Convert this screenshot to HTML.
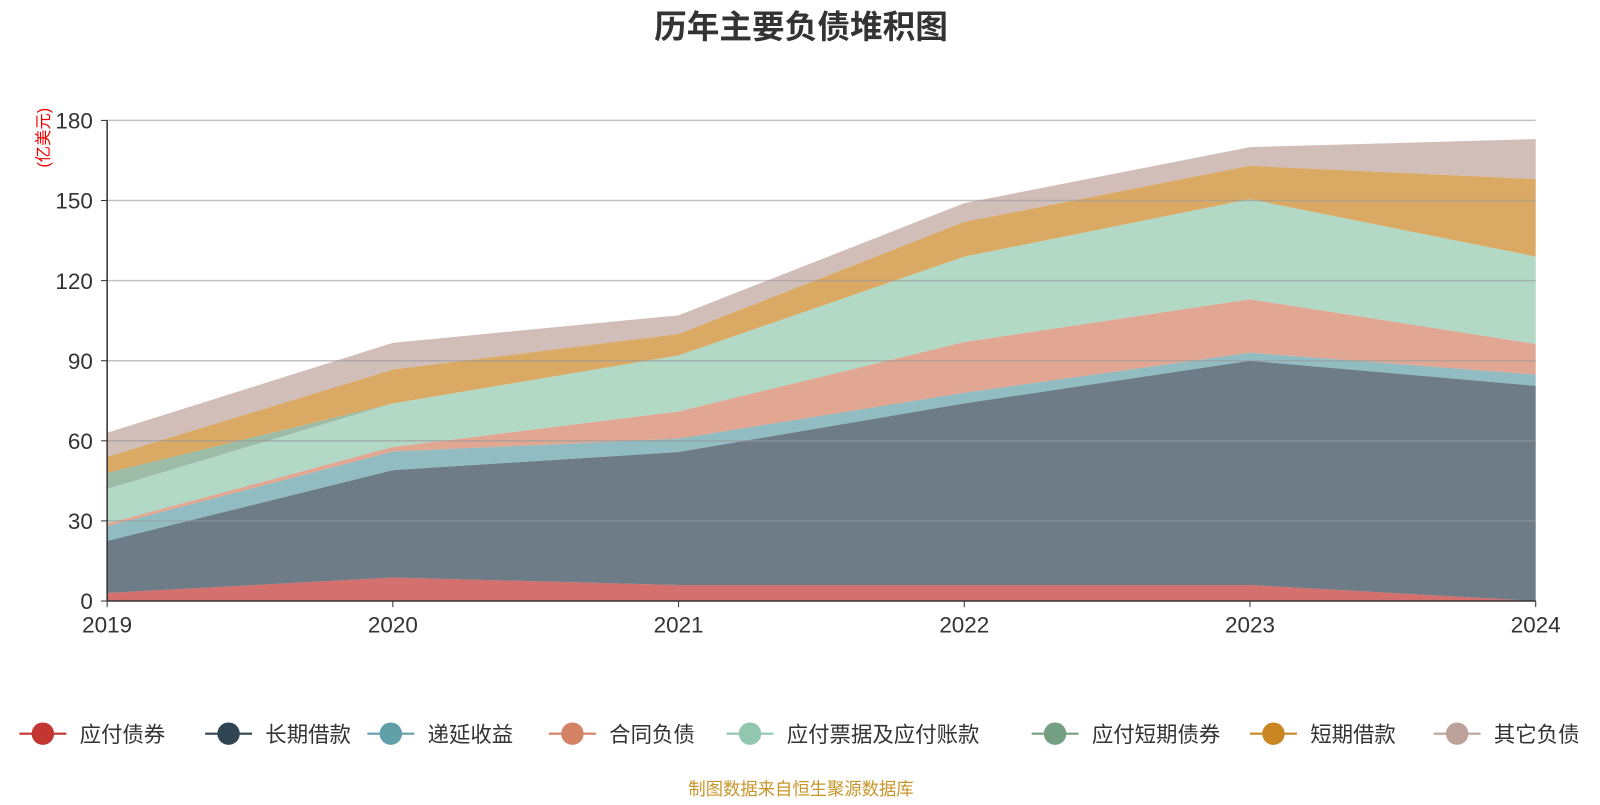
<!DOCTYPE html>
<html><head><meta charset="utf-8">
<style>
body{margin:0;background:#fff;font-family:"Liberation Sans","Noto Sans CJK SC",sans-serif;}
svg text{font-family:"Liberation Sans","Noto Sans CJK SC",sans-serif;}
</style></head>
<body>
<svg id="chart" width="1600" height="800" viewBox="0 0 1568 784" xmlns="http://www.w3.org/2000/svg">
<text x="785" y="37" text-anchor="middle" font-size="32" font-weight="bold" fill="#333">历年主要负债堆积图</text>
<text transform="translate(48,135) rotate(-90)" text-anchor="middle" font-size="16" fill="#e00">(亿美元)</text>
<g id="areas"></g>
<g id="grid"></g>
<g id="legend"></g>
<text x="785" y="779" text-anchor="middle" font-size="17" fill="#c8952a">制图数据来自恒生聚源数据库</text>
</svg>
<script>
const years=['2019','2020','2021','2022','2023','2024'];
const yTicks=[0,30,60,90,120,150,180];
const seriesNames=['应付债券','长期借款','递延收益','合同负债','应付票据及应付账款','应付短期债券','短期借款','其它负债'];
const s0=[3,8.8,6,6,6,0];
const s1=[19.5,40.2,49.8,68,84,80.6];
const s2=[5.5,7,5,4,3,4.2];
const s3=[1,1.7,10.2,19,20,11.5];
const s4=[13,16.3,21,32,37.5,32.7];
const s5=[6,0,0,0,0,0];
const s6=[6,12.7,8,13,12.5,29];
const s7=[9,10,7,7,7,15];
const seriesData=[s0,s1,s2,s3,s4,s5,s6,s7];
const colors=['#c23531','#2f4554','#61a0a8','#d48265','#91c7ae','#749f83','#ca8622','#bda29a'];
const NS='http://www.w3.org/2000/svg';
const x0=105,x1=1505,yb=589,yt=118,ymax=180;
const X=i=>x0+i*(x1-x0)/(years.length-1);
const Y=v=>yb-v/ymax*(yb-yt);
const ga=document.getElementById('areas'),gg=document.getElementById('grid'),gl=document.getElementById('legend');
function mk(tag,attrs,parent){const e=document.createElementNS(NS,tag);for(const k in attrs)e.setAttribute(k,attrs[k]);parent.appendChild(e);return e;}
let base=years.map(()=>0);
seriesData.forEach((d,si)=>{
  const top=base.map((b,i)=>b+d[i]);
  let p='M'+top.map((v,i)=>X(i)+','+Y(v)).join(' L');
  for(let i=years.length-1;i>=0;i--)p+=' L'+X(i)+','+Y(base[i]);
  p+='Z';
  const a=mk('path',{d:p,fill:colors[si],'fill-opacity':0.7,stroke:'none'},ga);
  
  
  base=top;
});
yTicks.forEach(t=>{
  if(t>0){const l=mk('line',{x1:x0,x2:x1,y1:Y(t),y2:Y(t),stroke:'#999','stroke-opacity':0.6,'stroke-width':1.5},gg);
  
  }
  const tk=mk('line',{x1:x0-6,x2:x0,y1:Y(t),y2:Y(t),stroke:'#333'},gg);
  
  
  const tx=mk('text',{x:x0-14,y:Y(t)+8,'text-anchor':'end','font-size':22,fill:'#333'},gg);
  tx.textContent=t;
  
  
});
const ya=mk('line',{x1:x0,x2:x0,y1:yt,y2:yb,stroke:'#333','stroke-width':1.5},gg);


const xa=mk('line',{x1:x0,x2:x1,y1:yb,y2:yb,stroke:'#333','stroke-width':1.5},gg);


years.forEach((yr,i)=>{
  const tk=mk('line',{x1:X(i),x2:X(i),y1:yb,y2:yb+6,stroke:'#333'},gg);
  
  
  const tx=mk('text',{x:X(i),y:yb+31,'text-anchor':'middle','font-size':22,fill:'#333'},gg);
  tx.textContent=yr;
  
  
});
const lx=[42,224,383,561,735,1034,1248,1428];
seriesNames.forEach((n,i)=>{
  const g=mk('g',{},gl);
  
  
  mk('line',{x1:lx[i]-23,x2:lx[i]+23,y1:719,y2:719,stroke:colors[i],'stroke-width':2},g);
  mk('circle',{cx:lx[i],cy:719,r:11,fill:colors[i]},g);
  const t=mk('text',{x:lx[i]+36,y:727,'font-size':21,fill:'#333'},g);
  t.textContent=n;
});
</script>
</body></html>
